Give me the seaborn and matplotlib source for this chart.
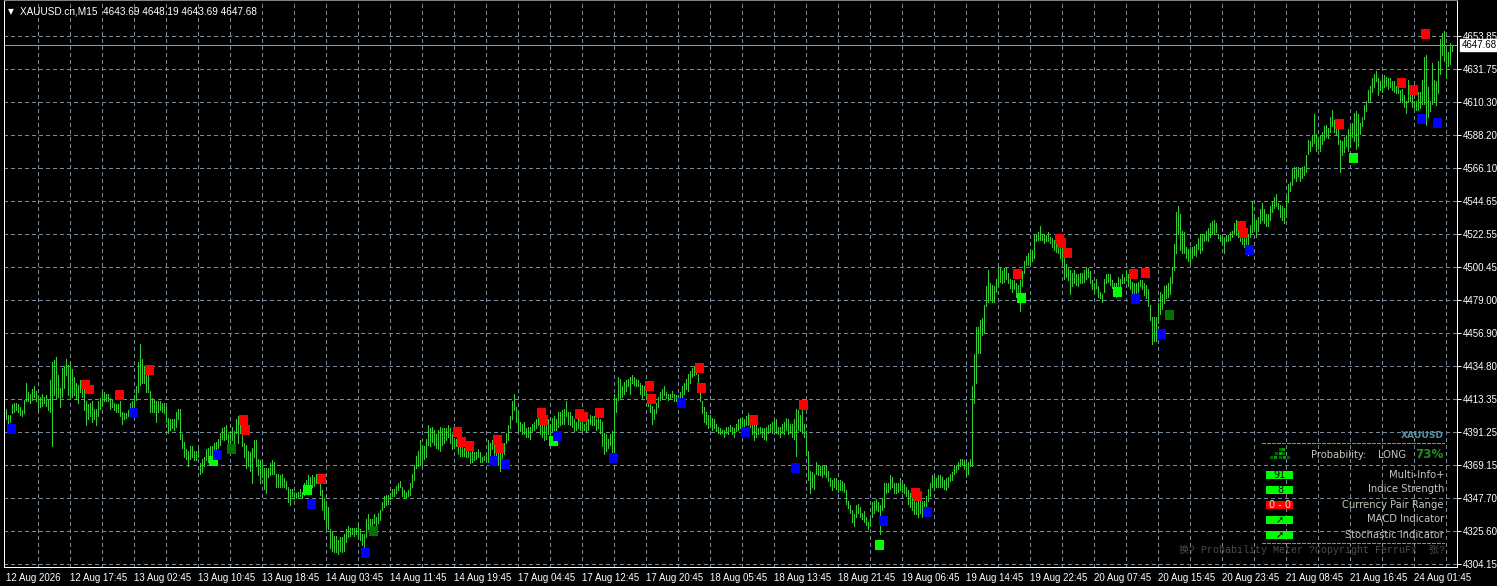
import numpy as np
import pandas as pd
import matplotlib
matplotlib.use("Agg")
import matplotlib.pyplot as plt
import seaborn as sns
from matplotlib import font_manager
from matplotlib.patches import Rectangle
from matplotlib.lines import Line2D

# ---------------- data ----------------
symbol = "XAUUSD.cn"
timeframe = "M15"
last_ohlc = [4643.69, 4648.19, 4643.69, 4647.68]

bar_high = [
    4407,4403,4403,4410,4411,4411,4410,4408,4406,4413,
    4424,4418,4417,4420,4422,4419,4416,4415,4417,4415,
    4416,4413,4426,4438,4439,4441,4429,4421,4434,4435,
    4440,4436,4437,4433,4428,4424,4423,4426,4426,4423,
    4412,4410,4411,4412,4407,4407,4412,4414,4418,4418,
    4417,4417,4414,4413,4411,4410,4410,4412,4405,4404,
    4404,4406,4411,4412,4416,4422,4438,4450,4440,4435,
    4430,4430,4419,4414,4413,4412,4412,4412,4411,4411,
    4408,4401,4400,4400,4400,4405,4407,4407,4390,4385,
    4380,4379,4382,4382,4379,4379,4380,4371,4374,4375,
    4380,4381,4382,4382,4384,4385,4387,4391,4394,4395,
    4396,4390,4392,4395,4392,4400,4402,4402,4394,4384,
    4383,4379,4378,4381,4386,4386,4374,4373,4372,4368,
    4368,4368,4371,4373,4372,4364,4364,4363,4364,4361,
    4359,4355,4354,4354,4352,4351,4352,4354,4352,4358,
    4360,4363,4362,4363,4362,4364,4363,4360,4353,4348,
    4345,4342,4327,4326,4323,4323,4320,4322,4322,4324,
    4327,4329,4328,4328,4328,4328,4329,4327,4324,4324,
    4334,4337,4334,4334,4337,4335,4338,4340,4345,4349,
    4350,4350,4351,4354,4354,4356,4358,4359,4355,4353,
    4352,4353,4358,4364,4370,4376,4379,4386,4382,4382,
    4387,4396,4394,4395,4393,4390,4393,4395,4394,4394,
    4394,4396,4394,4390,4386,4387,4385,4383,4382,4381,
    4381,4379,4378,4379,4378,4378,4380,4378,4375,4376,
    4377,4386,4384,4386,4384,4381,4379,4382,4380,4384,
    4391,4396,4402,4412,4417,4408,4405,4398,4397,4398,
    4394,4395,4395,4397,4398,4400,4406,4400,4397,4396,
    4398,4400,4397,4401,4402,4400,4405,4405,4406,4407,
    4412,4405,4405,4402,4400,4398,4403,4398,4400,4397,
    4398,4400,4403,4402,4402,4400,4402,4400,4398,4391,
    4390,4387,4390,4392,4417,4414,4428,4427,4422,4425,
    4426,4427,4428,4429,4428,4427,4426,4424,4423,4422,
    4420,4417,4411,4409,4407,4411,4415,4418,4420,4422,
    4418,4417,4417,4419,4417,4416,4416,4418,4422,4424,
    4427,4430,4432,4434,4435,4436,4430,4422,4412,4408,
    4405,4403,4403,4401,4400,4397,4395,4394,4393,4393,
    4395,4395,4396,4395,4394,4397,4400,4401,4401,4400,
    4402,4404,4403,4398,4396,4396,4394,4395,4394,4394,
    4395,4396,4397,4398,4400,4400,4395,4395,4397,4398,
    4401,4400,4397,4397,4400,4407,4406,4403,4406,4397,
    4390,4379,4366,4365,4364,4372,4370,4369,4370,4369,
    4369,4366,4361,4360,4361,4361,4359,4360,4359,4358,
    4353,4346,4343,4340,4337,4343,4344,4342,4338,4339,
    4335,4332,4335,4345,4346,4347,4345,4343,4348,4358,
    4358,4358,4363,4362,4358,4358,4358,4361,4358,4357,
    4355,4353,4351,4349,4346,4345,4346,4349,4346,4346,
    4349,4354,4358,4363,4362,4361,4363,4363,4362,4360,
    4361,4362,4364,4365,4370,4370,4372,4374,4374,4373,
    4371,4372,4374,4422,4443,4461,4461,4466,4467,4476,
    4488,4499,4490,4489,4488,4493,4500,4500,4498,4500,
    4500,4497,4493,4492,4492,4490,4489,4492,4498,4505,
    4508,4510,4512,4512,4522,4523,4524,4528,4523,4523,
    4522,4524,4521,4520,4519,4521,4518,4517,4514,4510,
    4503,4501,4499,4497,4499,4496,4496,4497,4497,4499,
    4501,4500,4498,4492,4490,4493,4488,4484,4483,4493,
    4496,4496,4496,4492,4490,4490,4494,4493,4496,4494,
    4499,4496,4493,4491,4490,4490,4491,4492,4492,4490,
    4489,4486,4476,4468,4468,4468,4477,4484,4483,4488,
    4489,4490,4494,4501,4516,4537,4541,4536,4525,4524,
    4514,4513,4514,4514,4515,4516,4520,4523,4523,4523,
    4525,4527,4530,4531,4532,4530,4523,4522,4522,4521,
    4522,4522,4524,4525,4530,4532,4530,4528,4526,4523,
    4521,4523,4529,4544,4533,4532,4534,4539,4543,4539,
    4536,4536,4541,4544,4547,4549,4543,4542,4541,4540,
    4547,4556,4557,4566,4567,4567,4567,4566,4567,4568,
    4575,4585,4584,4588,4602,4589,4587,4588,4590,4594,
    4595,4593,4600,4605,4598,4596,4592,4585,4584,4587,
    4588,4592,4594,4596,4603,4604,4602,4596,4600,4608,
    4611,4618,4621,4626,4629,4631,4626,4624,4626,4628,
    4627,4626,4626,4624,4624,4621,4621,4618,4619,4615,
    4611,4625,4618,4615,4611,4611,4617,4617,4625,4640,
    4641,4620,4611,4636,4625,4624,4637,4652,4656,4657,
    4645,4643,4649,4648.19,
]

bar_low = [
    4400,4397,4398,4404,4405,4406,4405,4403,4402,4404,
    4412,4412,4411,4413,4415,4412,4407,4408,4409,4411,
    4409,4406,4405,4382,4416,4414,4415,4408,4415,4421,
    4429,4416,4414,4415,4416,4414,4411,4418,4415,4406,
    4396,4400,4402,4398,4400,4396,4402,4407,4409,4412,
    4412,4412,4407,4408,4406,4405,4405,4402,4397,4400,
    4401,4402,4404,4406,4407,4413,4418,4423,4424,4424,
    4418,4418,4405,4405,4405,4398,4405,4406,4405,4404,
    4398,4391,4393,4394,4393,4395,4400,4387,4381,4375,
    4374,4369,4374,4375,4373,4373,4375,4364,4365,4369,
    4373,4372,4374,4375,4379,4379,4381,4383,4387,4386,
    4387,4381,4383,4386,4382,4391,4384,4391,4382,4375,
    4368,4369,4366,4358,4375,4369,4363,4358,4362,4354,
    4351,4362,4363,4364,4364,4355,4355,4355,4355,4355,
    4354,4345,4343,4349,4347,4348,4348,4349,4348,4350,
    4353,4354,4355,4355,4356,4358,4360,4350,4340,4334,
    4328,4327,4315,4313,4312,4312,4311,4313,4312,4313,
    4319,4322,4323,4324,4323,4324,4322,4320,4317,4313,
    4322,4327,4329,4329,4331,4330,4331,4333,4340,4342,
    4343,4344,4347,4349,4349,4351,4353,4355,4349,4348,
    4348,4349,4350,4355,4360,4368,4369,4370,4370,4374,
    4375,4383,4382,4385,4383,4381,4380,4379,4383,4384,
    4386,4388,4384,4380,4381,4382,4377,4376,4376,4376,
    4375,4375,4371,4372,4373,4374,4375,4372,4372,4373,
    4374,4372,4375,4380,4376,4371,4370,4366,4373,4377,
    4384,4386,4394,4400,4406,4398,4392,4392,4390,4390,
    4388,4388,4387,4392,4393,4394,4396,4390,4388,4386,
    4387,4390,4387,4392,4392,4393,4395,4396,4397,4397,
    4402,4397,4396,4395,4392,4393,4394,4393,4392,4393,
    4392,4393,4397,4396,4396,4393,4394,4391,4382,4377,
    4379,4381,4383,4377,4377,4405,4413,4414,4415,4417,
    4419,4422,4417,4424,4423,4422,4422,4417,4414,4416,
    4414,4409,4405,4397,4400,4404,4408,4413,4414,4416,
    4414,4413,4414,4415,4412,4412,4411,4413,4414,4417,
    4420,4419,4424,4428,4429,4430,4419,4412,4404,4398,
    4397,4394,4397,4393,4394,4392,4391,4390,4391,4388,
    4391,4390,4392,4390,4388,4392,4393,4394,4394,4394,
    4396,4396,4395,4390,4386,4388,4390,4391,4388,4387,
    4386,4391,4392,4391,4393,4391,4390,4388,4391,4390,
    4393,4390,4391,4388,4387,4376,4393,4392,4391,4388,
    4377,4360,4351,4355,4354,4364,4363,4363,4362,4364,
    4362,4359,4356,4353,4355,4354,4352,4353,4353,4352,
    4344,4341,4338,4332,4329,4335,4338,4335,4334,4332,
    4330,4327,4329,4335,4338,4340,4339,4324,4340,4342,
    4351,4352,4354,4355,4351,4351,4352,4353,4352,4351,
    4349,4344,4342,4340,4337,4337,4335,4338,4335,4340,
    4342,4346,4349,4355,4353,4355,4355,4355,4355,4354,
    4353,4355,4359,4360,4364,4365,4367,4369,4370,4367,
    4362,4364,4369,4369,4411,4424,4444,4444,4456,4457,
    4475,4478,4479,4478,4478,4484,4488,4491,4490,4491,
    4493,4490,4487,4484,4486,4481,4480,4472,4488,4497,
    4502,4502,4503,4505,4507,4518,4519,4519,4519,4517,
    4518,4518,4517,4514,4512,4511,4510,4507,4504,4493,
    4494,4492,4483,4488,4490,4489,4488,4490,4490,4491,
    4493,4494,4490,4486,4483,4487,4481,4480,4478,4484,
    4490,4491,4489,4487,4483,4481,4486,4488,4490,4490,
    4492,4488,4486,4483,4481,4483,4484,4488,4486,4482,
    4480,4475,4466,4450,4452,4452,4464,4470,4473,4477,
    4480,4481,4483,4490,4499,4510,4523,4512,4510,4510,
    4507,4505,4503,4507,4509,4508,4513,4510,4512,4518,
    4519,4518,4521,4523,4523,4524,4520,4518,4516,4510,
    4518,4518,4519,4521,4523,4522,4521,4518,4516,4514,
    4510,4509,4521,4524,4525,4521,4525,4530,4532,4530,
    4528,4528,4532,4537,4540,4541,4539,4534,4532,4530,
    4534,4544,4551,4555,4560,4558,4561,4558,4560,4562,
    4564,4576,4578,4581,4583,4578,4579,4578,4582,4585,
    4587,4586,4590,4594,4590,4588,4582,4564,4575,4577,
    4581,4578,4581,4587,4584,4579,4581,4589,4594,4599,
    4604,4610,4611,4617,4620,4624,4615,4618,4617,4620,
    4621,4619,4620,4618,4617,4616,4616,4611,4610,4607,
    4603,4610,4611,4607,4606,4605,4605,4606,4609,4609,
    4595,4600,4604,4609,4611,4608,4616,4629,4641,4637,
    4626,4634,4635,4643.69,
]

# signal squares: bar number, price, kind
marker_bar = [3, 40, 42, 57, 64, 72, 104, 106, 113, 119, 120, 151, 153, 158, 180, 184,
              226, 228, 232, 244, 246, 247, 250, 268, 269, 274, 276, 287, 289, 297, 304,
              322, 323, 338, 347, 348, 370, 374, 395, 399, 437, 439, 455, 456, 461,
              506, 508, 527, 528, 531, 556, 564, 565, 570, 578, 582, 618, 619, 622,
              667, 674, 698, 704, 708, 710, 716]
marker_price = [4393.6, 4423.0, 4419.7, 4416.1, 4404.2, 4432.7, 4372.4, 4376.4, 4380.3, 4399.5,
                4392.9, 4353.2, 4343.9, 4360.5, 4311.5, 4326.0, 4391.6, 4385.0, 4382.3, 4372.4,
                4386.3, 4381.0, 4370.4, 4404.2, 4399.5, 4385.6, 4388.9, 4403.5, 4401.5, 4404.2,
                4374.4, 4422.0, 4413.4, 4410.8, 4434.0, 4420.7, 4391.6, 4399.5, 4367.7, 4409.5,
                4316.8, 4332.6, 4351.2, 4349.2, 4338.6, 4496.2, 4480.3, 4519.4, 4516.8, 4510.1,
                4484.3, 4496.2, 4479.7, 4496.9, 4456.5, 4469.1, 4528.0, 4523.4, 4512.1, 4595.6,
                4573.1, 4622.7, 4618.1, 4598.9, 4655.2, 4596.2]
marker_kind = ["blue", "red", "red", "red", "blue", "red", "lime", "blue", "dkgreen", "red",
               "red", "lime", "blue", "red", "blue", "dkgreen", "red", "red", "red", "blue",
               "red", "red", "blue", "red", "red", "lime", "blue", "red", "red", "red",
               "blue", "red", "red", "blue", "red", "red", "blue", "red", "blue", "red",
               "lime", "blue", "red", "red", "blue", "red", "lime", "red", "red", "red",
               "lime", "red", "blue", "red", "blue", "dkgreen", "red", "red", "blue", "red",
               "lime", "red", "red", "blue", "red", "blue"]

price_labels = ["4653.85", "4631.75", "4610.30", "4588.20", "4566.10", "4544.65", "4522.55",
                "4500.45", "4479.00", "4456.90", "4434.80", "4413.35", "4391.25", "4369.15",
                "4347.70", "4325.60", "4304.15"]
time_labels = ["12 Aug 2026", "12 Aug 17:45", "13 Aug 02:45", "13 Aug 10:45", "13 Aug 18:45",
               "14 Aug 03:45", "14 Aug 11:45", "14 Aug 19:45", "17 Aug 04:45", "17 Aug 12:45",
               "17 Aug 20:45", "18 Aug 05:45", "18 Aug 13:45", "18 Aug 21:45", "19 Aug 06:45",
               "19 Aug 14:45", "19 Aug 22:45", "20 Aug 07:45", "20 Aug 15:45", "20 Aug 23:45",
               "21 Aug 08:45", "21 Aug 16:45", "24 Aug 01:45"]

panel_symbol = "XAUUSD"
panel_direction = "LONG"
panel_probability = "73%"
panel_labels = ["Multi-Info+", "Indice Strength", "Currency Pair Range", "MACD Indicator",
                "Stochastic Indicator"]
panel_values = ["91", "8", "0 - 0", "\u279a", "\u279a"]
panel_states = ["up", "up", "down", "up", "up"]
panel_footer = "\u6362? Probability Meter ?Copyright FerruFx  \u5f20?"

# ---------------- style ----------------
sns.set_style("dark")
names = {f.name for f in font_manager.fontManager.ttflist}
if "Liberation Sans Narrow" in names:
    axis_font, fs, fs_title = "Liberation Sans Narrow", 8.2, 8.6
else:
    axis_font, fs, fs_title = "Liberation Sans", 7.0, 7.2
plt.rcParams["font.family"] = [axis_font, "DejaVu Sans"]

W, H = 1497, 586
BAR_C = "#32cd32"
GRID_C = "#778899"
palette = {"red": "#ff0000", "blue": "#0000ff", "lime": "#00ff00", "dkgreen": "#007400"}

fig = plt.figure(figsize=(W / 100, H / 100), dpi=100, facecolor="black")
ax = fig.add_axes([4 / W, 19 / H, 1453 / W, 567 / H])
ax.set_facecolor("black")

n = len(bar_high)
idx = np.arange(n)
ax.set_xlim(-0.75, -0.75 + 1453 / 2)

tick_pos = np.linspace(4653.85, 4304.15, len(price_labels))
ppu = 33 * (len(price_labels) - 1) / (tick_pos[0] - tick_pos[-1])  # pixels per price unit
ax.set_ylim(tick_pos[-1] - 3 / ppu, tick_pos[0] + 36 / ppu)

# grid
for p in tick_pos:
    ax.axhline(p, color=GRID_C, lw=0.72, ls=(0, (3, 3)), antialiased=False, zorder=0)
for g in range(16, n, 16):
    ax.axvline(g, color=GRID_C, lw=0.72, ls=(0, (3, 3)), antialiased=False, zorder=0)

# bars
ax.vlines(idx, bar_low, bar_high, colors=BAR_C, linewidth=0.72, antialiased=False, zorder=2)

# bid line
ax.axhline(last_ohlc[3], color="#8f98a2", lw=0.72, antialiased=False, zorder=1)

# signal squares
mdf = pd.DataFrame({"bar": marker_bar, "price": marker_price, "kind": marker_kind})
sns.scatterplot(data=mdf, x="bar", y="price", hue="kind", palette=palette, marker="s",
                s=(9.5 * 0.72) ** 2, linewidth=0, legend=False, ax=ax, zorder=5)
ax.set_xlabel("")
ax.set_ylabel("")

# axes / ticks
ax.set_xticks(np.arange(len(time_labels)) * 32)
ax.set_xticklabels(time_labels)
for t in ax.get_xticklabels():
    t.set_ha("left")
ax.tick_params(axis="x", colors="white", length=3, width=0.72, pad=1, labelsize=fs)
ax.yaxis.tick_right()
ax.set_yticks(tick_pos)
ax.set_yticklabels(price_labels)
ax.tick_params(axis="y", colors="white", length=3, width=0.72, pad=1.5, labelsize=fs)
for s in ["left", "right", "bottom"]:
    ax.spines[s].set_color("white")
    ax.spines[s].set_linewidth(0.72)
ax.spines["top"].set_color("#808080")
ax.spines["top"].set_linewidth(0.72)
ax.grid(False)

ax.annotate(f"{last_ohlc[3]:.2f}", xy=(1, last_ohlc[3]), xycoords=("axes fraction", "data"),
            xytext=(3.3, 0), textcoords="offset points", va="center", ha="left",
            color="black", fontsize=fs, annotation_clip=False,
            bbox=dict(boxstyle="square,pad=0.12", fc="white", ec="white"))

def P(x, y):
    return (x / W, 1 - y / H)

# title
fig.text(*P(8, 12), "\u25bc", color="white", fontsize=5.5, va="center", ha="left",
         family=["DejaVu Sans"])
title = f"{symbol},{timeframe}  " + " ".join(f"{v:.2f}" for v in last_ohlc)
fig.text(*P(20, 12), title, color="white", fontsize=fs_title, va="center", ha="left")

# ---------------- probability meter panel ----------------
PANEL_TXT = "#c6c6bc"
fig.text(*P(1444, 436), panel_symbol, color="#4f94a8", fontsize=6.6, fontweight="bold",
         va="center", ha="right", family=["DejaVu Sans"])
for yy in (443, 543):
    fig.add_artist(Line2D([1262 / W, 1444 / W], [1 - yy / H, 1 - yy / H], transform=fig.transFigure,
                          color="#8c8c80", lw=0.72, ls=(0, (3, 2)), antialiased=False))
# small strength icon
icon_cells = [(1279, 448, "#006400"), (1282, 448, "#00a000"),
              (1275, 452, "#006400"), (1279, 452, "#00b000"), (1282, 452, "#006400"),
              (1270, 456, "#006400"), (1274, 456, "#00a000"), (1279, 456, "#006400"),
              (1283, 456, "#00a000"), (1287, 456, "#006400")]
for cx, cy, cc in icon_cells:
    fig.add_artist(Rectangle((cx / W, 1 - (cy + 3) / H), 3 / W, 3 / H, transform=fig.transFigure,
                             fc=cc, ec="none"))
fig.text(*P(1311, 455), "Probability:", color=PANEL_TXT, fontsize=7.2, va="center", ha="left",
         family=["DejaVu Sans"])
fig.text(*P(1378, 455), panel_direction, color=PANEL_TXT, fontsize=7.2, va="center", ha="left",
         family=["DejaVu Sans"])
fig.text(*P(1444, 455), panel_probability, color="#1f8f1f", fontsize=8.6, fontweight="bold",
         va="center", ha="right", family=["DejaVu Sans"])

row_y = [474.5, 489.5, 504.5, 519.5, 534.5]
state_color = {"up": "#00ff00", "down": "#ff0000"}
for ry, lab, val, st in zip(row_y, panel_labels, panel_values, panel_states):
    fig.add_artist(Rectangle((1266 / W, 1 - (ry + 4) / H), 27 / W, 8 / H, transform=fig.transFigure,
                             fc=state_color[st], ec="none"))
    fig.text(*P(1280, ry + 0.5), val, color="black" if st == "up" else "#ffe0e0", fontsize=7.0,
             va="center", ha="center", family=["DejaVu Sans"])
    fig.text(*P(1444, ry), lab, color=PANEL_TXT, fontsize=7.2, va="center", ha="right",
             family=["DejaVu Sans"])

fig.text(*P(1445, 550), panel_footer, color="#4e4e4e", fontsize=7.2, va="center", ha="right",
         family=["Liberation Mono", "Noto Sans CJK SC", "DejaVu Sans"])

fig.savefig("out.png", dpi=100, facecolor="black")
